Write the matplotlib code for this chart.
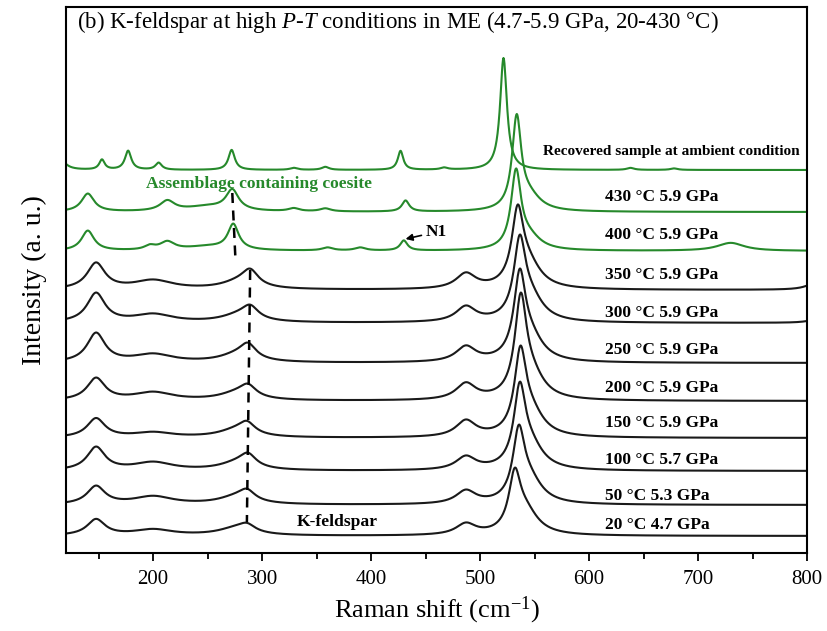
import numpy as np
import matplotlib
matplotlib.use("Agg")
import matplotlib.pyplot as plt

plt.rcParams['font.family'] = ['Liberation Serif', 'DejaVu Serif']
plt.rcParams['mathtext.fontset'] = 'custom'
plt.rcParams['mathtext.rm'] = 'Liberation Serif'
plt.rcParams['mathtext.it'] = 'Liberation Serif:italic'

# spectra from top to bottom; intensities in arbitrary (stacked) units
labels = ["Recovered sample at ambient condition",
          "430 °C 5.9 GPa", "400 °C 5.9 GPa", "350 °C 5.9 GPa",
          "300 °C 5.9 GPa", "250 °C 5.9 GPa", "200 °C 5.9 GPa",
          "150 °C 5.9 GPa", "100 °C 5.7 GPa", "50 °C 5.3 GPa",
          "20 °C 4.7 GPa"]
offsets = [383, 341, 302, 263, 230, 190, 152, 115, 82, 48, 17]
is_coesite = [True, True, True, False, False, False, False, False,
              False, False, False]
label_y = [401, 356, 318, 278, 240, 203, 165, 130, 93, 57, 28]

# peaks: (position cm-1, height, half width)
peaks_recovered = [(115, 10, 6), (153, 10, 3), (177, 19, 3.5),
                   (205, 7, 3.5), (272, 20, 3.5), (329, 2, 4),
                   (358, 3, 4), (427, 19, 3), (467, 2, 4),
                   (521.5, 112, 3.8), (638, 2, 4), (678, 1.5, 4)]
peaks_430 = [(140, 18, 7), (213, 10, 8), (250, 5, 25), (272.6, 20, 7),
             (329, 3, 6), (358, 3, 6), (431.6, 11, 4),
             (533.6, 90, 5), (545, 14, 13)]
peaks_400 = [(140, 20, 7), (197, 4, 6), (213, 8, 8), (250, 4, 25),
             (273.5, 25, 6), (360, 3, 6), (390, 3, 6), (430, 10, 4),
             (533, 76, 5.5), (545, 12, 13), (730, 8, 15)]

# K-feldspar bands (black spectra)
kfs_main_pos = [534.5, 536.4, 536.4, 537.3, 537.0, 536.4, 535.5, 531.8]
kfs_main_h = [70, 73, 79, 93, 77, 74, 65, 53]
kfs_147_h = [26, 29, 29, 22, 19, 23, 18, 16]
kfs_195_h = [9, 8, 8, 8, 5, 8, 8, 6]
kfs_288_pos = [289, 289, 287, 287, 286, 287, 286, 286]
kfs_288_h = [15, 12, 14, 11, 11, 12, 10, 7]
kfs_487_h = [15, 15, 15, 16, 16, 13, 13, 11]
kfs_end_rise = [7, 3, 0, 0, 0, 0, 0, 0]


def lorentz(x, peaks):
    y = np.zeros_like(x)
    for c, h, w in peaks:
        y += h / (1 + ((x - c) / w) ** 2)
    return y


def kfs_peaks(i):
    return [(147.6, kfs_147_h[i], 10), (200, kfs_195_h[i], 22),
            (kfs_288_pos[i], kfs_288_h[i], 9),
            (kfs_288_pos[i] - 10, 7, 20),
            (487, kfs_487_h[i], 11),
            (kfs_main_pos[i], kfs_main_h[i], 6.5),
            (kfs_main_pos[i] + 10, 22, 14),
            (808, kfs_end_rise[i], 10)]


green = '#26892b'
x = np.linspace(120, 800, 1500)

fig = plt.figure(figsize=(8.27, 6.31), dpi=100)
ax = fig.add_axes([66 / 827, 78 / 631, 741 / 827, 546 / 631])

all_peaks = [peaks_recovered, peaks_430, peaks_400] + \
    [kfs_peaks(i) for i in range(8)]

for i, pk in enumerate(all_peaks):
    col = green if is_coesite[i] else '#1a1a1a'
    ax.plot(x, offsets[i] + lorentz(x, pk), color=col, lw=1.5)
    if i == 0:
        ax.text(557.5, label_y[i], labels[i], fontsize=11,
                fontweight='bold', va='center', ha='left')
    else:
        ax.text(614.5, label_y[i], labels[i], fontsize=12.5,
                fontweight='bold', va='center', ha='left')

# dashed guide lines
ax.plot([272.6, 275.4], [360, 296], color='k', ls=(0, (4, 3)), lw=1.8)
ax.plot([289, 286], [283, 31], color='k', ls=(0, (4, 3)), lw=1.8)

ax.text(193.6, 369, "Assemblage containing coesite", color=green,
        fontsize=12.6, fontweight='bold', va='center', ha='left')
ax.text(331.4, 31, "K-feldspar", fontsize=12.6, fontweight='bold',
        va='center', ha='left')
ax.annotate("N1", xy=(431.6, 314), xytext=(450, 321), fontsize=12.5,
            fontweight='bold', va='center', ha='left',
            arrowprops=dict(arrowstyle='-|>', color='k', lw=1.2,
                            shrinkA=1, shrinkB=0, mutation_scale=10))

ax.text(130, 531, "(b) K-feldspar at high $P$-$T$ conditions in ME "
        "(4.7-5.9 GPa, 20-430 °C)", fontsize=16.5, va='center', ha='left')

ax.set_xlim(120, 800)
ax.set_ylim(0, 546)
ax.set_xticks([200, 300, 400, 500, 600, 700, 800])
ax.set_xticks(np.arange(150, 800, 100), minor=True)
ax.set_yticks([])
ax.tick_params(axis='x', which='major', direction='out', length=6,
               width=1.3, labelsize=15, pad=6)
ax.tick_params(axis='x', which='minor', direction='out', length=4,
               width=1.3)
for s in ax.spines.values():
    s.set_linewidth(1.5)
ax.set_xlabel("Raman shift (cm$^{-1}$)", fontsize=19, labelpad=4)
ax.set_ylabel("Intensity (a. u.)", fontsize=20, labelpad=14)

fig.savefig("out.png", dpi=100)
